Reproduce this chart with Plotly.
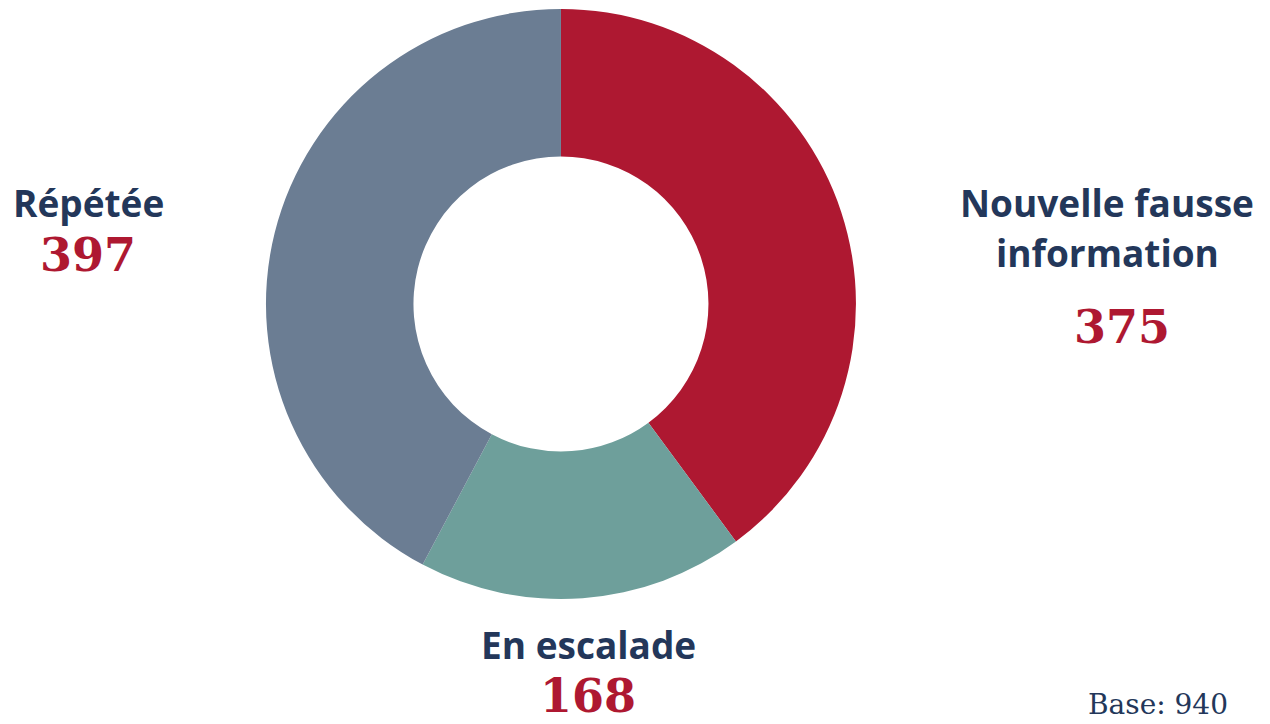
import plotly.graph_objects as go

# Data
categories = ["Nouvelle fausse<br>information", "En escalade", "Répétée"]
values = [375, 168, 397]
colors = ["#AE1831", "#6E9F9B", "#6B7D93"]
base = 940

navy = "#23375A"
red = "#AE1831"

fig = go.Figure(go.Pie(
    labels=categories, values=values, sort=False, direction="clockwise",
    rotation=0, hole=0.5, marker=dict(colors=colors, line=dict(width=0)),
    textinfo="none", hoverinfo="label+value", showlegend=False,
    domain=dict(x=[0.2094, 0.674], y=[0.1727, 0.9876]),
))

# positions in pixels: label line centres (x, first y, line gap), number centre (x, y)
label_pos = [(1107, 202, 50, 1122, 327), (588, 644, 0, 588, 696), (88, 202, 0, 88, 255)]
W, H = 1270, 724
for cat, val, (lx, ly, gap, nx, ny) in zip(categories, values, label_pos):
    for i, line in enumerate(cat.split("<br>")):
        fig.add_annotation(x=lx / W, y=1 - (ly + i * gap) / H, xref="paper", yref="paper",
                           text=f"<b>{line}</b>", showarrow=False,
                           font=dict(family="Open Sans", size=37, color=navy),
                           xanchor="center", yanchor="middle")
    fig.add_annotation(x=nx / W, y=1 - ny / H, xref="paper", yref="paper",
                       text=f"<b>{val}</b>", showarrow=False,
                       font=dict(family="DejaVu Serif", size=46, color=red),
                       xanchor="center", yanchor="middle")

fig.add_annotation(x=1230 / W, y=1 - 704 / H, xref="paper", yref="paper",
                   text=f"Base: {base}", showarrow=False,
                   font=dict(family="DejaVu Serif", size=28, color=navy),
                   xanchor="right", yanchor="middle")

fig.update_layout(width=W, height=H, margin=dict(l=0, r=0, t=0, b=0),
                  paper_bgcolor="white", plot_bgcolor="white")
fig.write_html("out.html", config={"displayModeBar": False},
               post_script="document.body.style.margin = '0';")
